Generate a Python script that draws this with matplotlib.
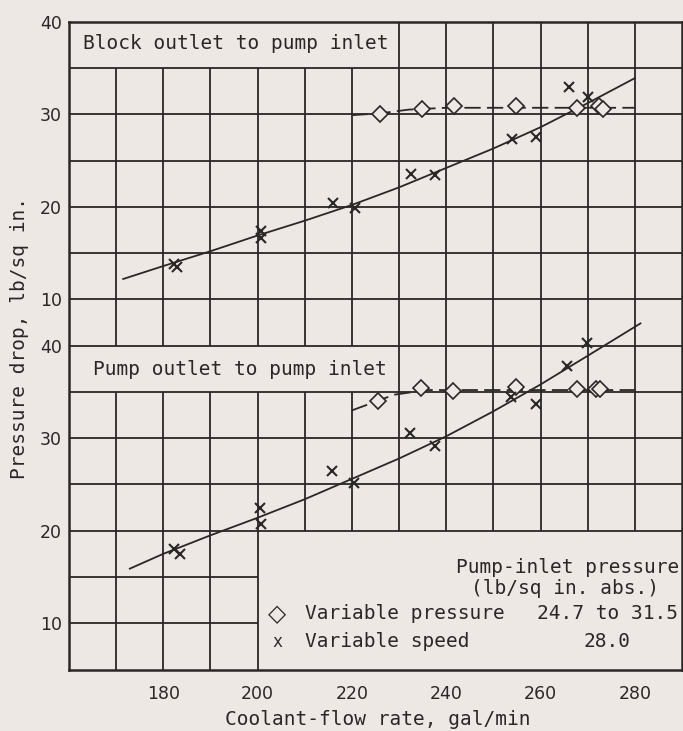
import numpy as np
import matplotlib
matplotlib.use("Agg")
import matplotlib.pyplot as plt

# both panels share one axis; the lower one is shifted down by this many units
LOWER_SHIFT = 35

# --- upper panel: block outlet to pump inlet ---
blk_press_flow = [226.0, 234.8, 241.7, 254.7, 267.8, 272.3, 273.2]
blk_press_drop = [30.0, 30.6, 30.9, 30.9, 30.7, 30.9, 30.6]
blk_speed_flow = [182.3, 183.0, 200.7, 200.7, 215.9, 220.6, 232.6, 237.6, 254.0, 259.1, 266.0, 270.1]
blk_speed_drop = [13.8, 13.5, 17.4, 16.6, 20.4, 19.9, 23.5, 23.4, 27.3, 27.5, 32.9, 31.9]
blk_fit_flow = [171.5, 180, 190, 200, 210, 220, 230, 240, 250, 260, 270, 280]
blk_fit_drop = [12.2, 13.6, 15.2, 16.9, 18.5, 20.2, 22.1, 24.2, 26.3, 28.6, 31.2, 33.9]
blk_dash_flow = [220, 226, 232, 240, 280]
blk_dash_drop = [29.9, 30.1, 30.5, 30.7, 30.7]

# --- lower panel: pump outlet to pump inlet ---
pump_press_flow = [225.6, 234.7, 241.5, 254.7, 267.8, 271.7, 272.6]
pump_press_drop = [34.0, 35.4, 35.1, 35.5, 35.3, 35.3, 35.3]
pump_speed_flow = [182.3, 183.5, 200.5, 200.7, 215.7, 220.4, 232.4, 237.6, 253.8, 259.0, 265.6, 269.9]
pump_speed_drop = [18.0, 17.5, 22.4, 20.7, 26.4, 25.2, 30.6, 29.1, 34.4, 33.7, 37.8, 40.3]
pump_fit_flow = [172.9, 180, 190, 200, 210, 220, 230, 240, 250, 260, 270, 281.2]
pump_fit_drop = [15.9, 17.5, 19.5, 21.4, 23.4, 25.6, 27.8, 30.2, 32.9, 35.8, 38.9, 42.4]
pump_dash_flow = [220, 229, 236, 280]
pump_dash_drop = [33.0, 34.7, 35.2, 35.2]

x_ticks = [180, 200, 220, 240, 260, 280]
upper_ticks = [40, 30, 20, 10]
lower_ticks = [40, 30, 20, 10]

paper = "#eee8e4"
ink = "#2b2727"

plt.rcParams["font.family"] = ["DejaVu Sans Mono", "DejaVu Sans"]

fig = plt.figure(figsize=(6.83, 7.31), dpi=100, facecolor=paper)
ax = fig.add_axes([0.101, 0.0841, 0.8975, 0.8862], facecolor=paper)
ax.set_xlim(160, 290)
ax.set_ylim(5 - LOWER_SHIFT, 40)

# grid by hand, with blank spots for the two title boxes and the key box
gkw = dict(color=ink, lw=1.3, zorder=1)
for y in range(-15, 40, 5):
    ax.hlines(y, 160, 290, **gkw)
for y in [-20, -25]:
    ax.hlines(y, 160, 200, **gkw)
for x in range(170, 290, 10):
    if x <= 200:
        ax.vlines(x, -30, 0, **gkw)
        ax.vlines(x, 5, 35, **gkw)
    elif x <= 220:
        ax.vlines(x, -15, 0, **gkw)
        ax.vlines(x, 5, 35, **gkw)
    else:
        ax.vlines(x, -15, 40, **gkw)

for s in ax.spines.values():
    s.set_linewidth(1.8)
    s.set_color(ink)

# faired curves
ax.plot(blk_fit_flow, blk_fit_drop, color=ink, lw=1.3, zorder=2)
ax.plot(blk_dash_flow, blk_dash_drop, color=ink, lw=1.3, dashes=(9, 3.5), zorder=2)
pump_fit_u = [v - LOWER_SHIFT for v in pump_fit_drop]
pump_dash_u = [v - LOWER_SHIFT for v in pump_dash_drop]
ax.plot(pump_fit_flow, pump_fit_u, color=ink, lw=1.3, zorder=2)
ax.plot(pump_dash_flow, pump_dash_u, color=ink, lw=1.3, dashes=(9, 3.5), zorder=2)

# data points
dkw = dict(ls="none", marker="D", ms=8.5, mfc=paper, mec=ink, mew=1.2, zorder=3)
xkw = dict(ls="none", marker="x", ms=6.5, color=ink, mew=1.5, zorder=3)
ax.plot(blk_press_flow, blk_press_drop, **dkw)
ax.plot(blk_speed_flow, blk_speed_drop, **xkw)
ax.plot(pump_press_flow, [v - LOWER_SHIFT for v in pump_press_drop], **dkw)
ax.plot(pump_speed_flow, [v - LOWER_SHIFT for v in pump_speed_drop], **xkw)

# ticks
ytick_pos = upper_ticks + [v - LOWER_SHIFT for v in lower_ticks]
ax.set_yticks(ytick_pos)
ax.set_yticklabels([str(v) for v in upper_ticks + lower_ticks])
ax.set_xticks(x_ticks)
ax.set_xticklabels([str(v) for v in x_ticks])
ax.tick_params(axis="both", length=0, labelsize=12.5, colors=ink)
ax.tick_params(axis="y", pad=5)
ax.tick_params(axis="x", pad=11)
for lab in ax.get_xticklabels() + ax.get_yticklabels():
    lab.set_family("DejaVu Sans")

ax.set_xlabel("Coolant-flow rate, gal/min", fontsize=14, color=ink)
ax.xaxis.set_label_coords(0.504, -0.062)
ax.set_ylabel("Pressure drop, lb/sq in.", fontsize=14, color=ink)
ax.yaxis.set_label_coords(-0.066, 0.511)

# panel titles
tkw = dict(fontsize=14, color=ink, va="center", zorder=4)
ax.text(163, 37.6, "Block outlet to pump inlet", **tkw)
ax.text(165, 2.4, "Pump outlet to pump inlet", **tkw)

# key
ax.text(289.4, -19.0, "Pump-inlet pressure", ha="right", **tkw)
ax.text(265.1, -21.2, "(lb/sq in. abs.)", ha="center", **tkw)
ax.text(204.1, -24.0, "\u25c7", ha="center", fontsize=17, color=ink, va="center",
        family="DejaVu Sans")
ax.text(210, -24.0, "Variable pressure", **tkw)
ax.text(289.2, -24.0, "24.7 to 31.5", ha="right", **tkw)
ax.text(204.1, -27.0, "x", ha="center", fontsize=12, color=ink, va="center")
ax.text(210, -27.0, "Variable speed", **tkw)
ax.text(274.2, -27.0, "28.0", ha="center", **tkw)

fig.savefig("out.png", dpi=100, facecolor=paper)
